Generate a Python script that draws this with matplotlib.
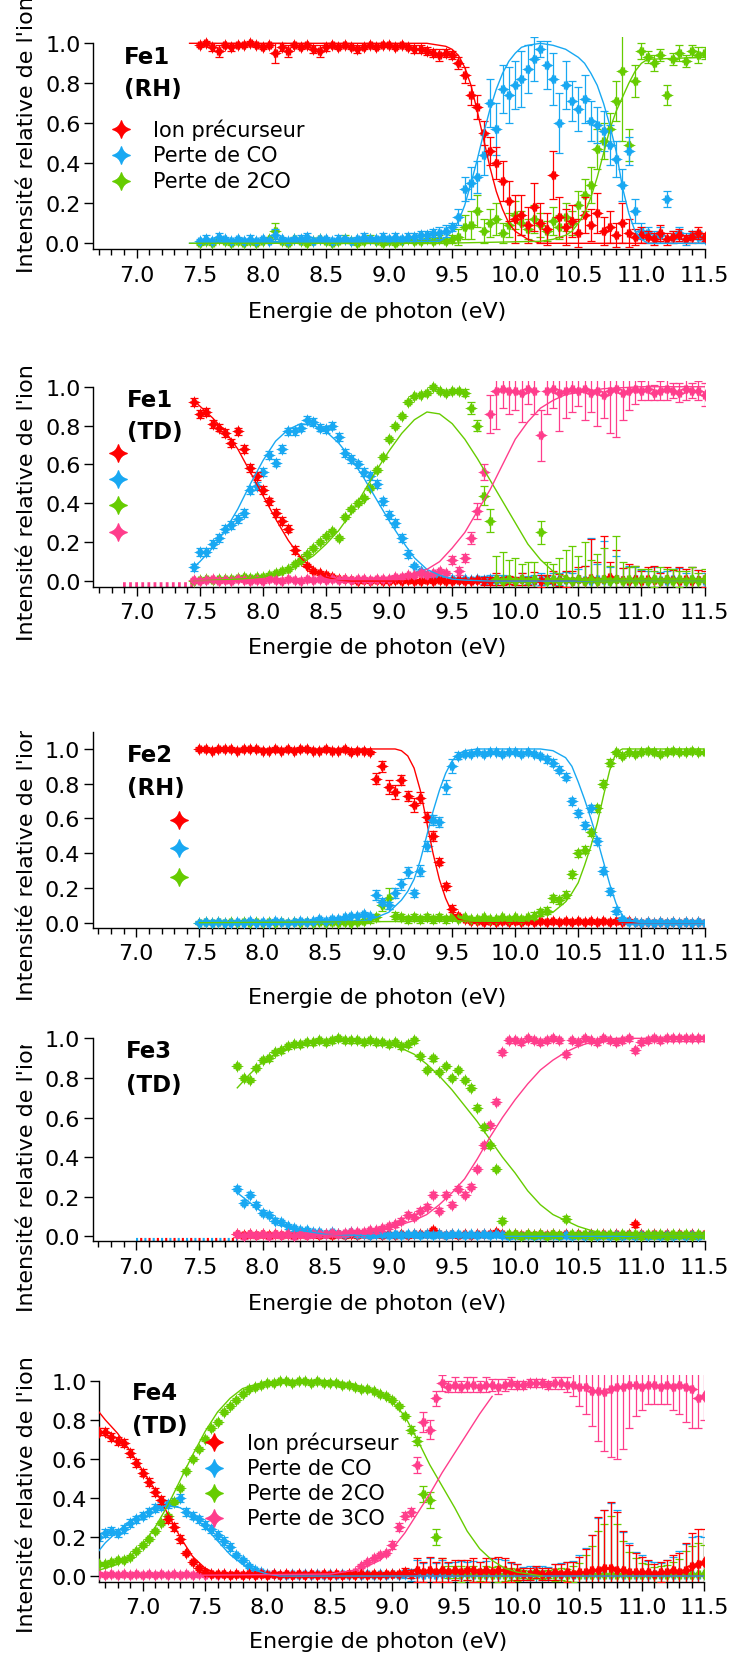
import numpy as np
import matplotlib
matplotlib.use("Agg")
import matplotlib.pyplot as plt
from matplotlib.path import Path
from matplotlib.ticker import MultipleLocator, FormatStrFormatter
from matplotlib.transforms import Bbox, TransformedBbox

plt.rcParams['font.family'] = ['DejaVu Sans']

RED = '#FF0000'
BLUE = '#18A8F2'
GREEN = '#66CC00'
PINK = '#FF3D8C'

# ---------------- Fe1 (RH) ----------------
x1 = np.round(np.arange(7.50, 11.501, 0.05), 2)
p1_red = [0.99, 1.00, 0.98, 0.96, 0.99, 0.98, 0.99, 0.99, 1.00, 0.99,
          0.98, 0.99, 0.95, 0.98, 0.96, 0.99, 0.98, 0.99, 0.97, 0.96,
          0.98, 0.99, 0.98, 0.99, 0.98, 0.97, 0.98, 0.99, 0.98, 0.99,
          0.99, 0.98, 0.99, 0.98, 0.97, 0.97, 0.96, 0.95, 0.94, 0.95,
          0.94, 0.90, 0.84, 0.74, 0.68, 0.55, 0.46, 0.40, 0.31, 0.21,
          0.12, 0.14, 0.09, 0.18, 0.10, 0.07, 0.34, 0.13, 0.08, 0.11,
          0.05, 0.14, 0.09, 0.15, 0.06, 0.08, 0.04, 0.10, 0.05, 0.03,
          0.04, 0.03, 0.02, 0.05, 0.02, 0.03, 0.04, 0.02, 0.03, 0.05, 0.03]
p1_red_err = [0.01, 0.01, 0.02, 0.03, 0.01, 0.02, 0.01, 0.01, 0.01, 0.01,
              0.01, 0.01, 0.05, 0.02, 0.03, 0.01, 0.01, 0.01, 0.02, 0.03,
              0.02, 0.01, 0.01, 0.01, 0.01, 0.02, 0.01, 0.01, 0.01, 0.01,
              0.01, 0.01, 0.01, 0.01, 0.02, 0.02, 0.02, 0.02, 0.03, 0.02,
              0.02, 0.03, 0.04, 0.05, 0.06, 0.06, 0.07, 0.08, 0.10, 0.10,
              0.12, 0.10, 0.09, 0.12, 0.10, 0.08, 0.12, 0.10, 0.09, 0.08,
              0.07, 0.09, 0.08, 0.10, 0.07, 0.08, 0.06, 0.10, 0.07, 0.04,
              0.04, 0.03, 0.03, 0.04, 0.03, 0.03, 0.03, 0.02, 0.03, 0.03, 0.02]
p1_blue = [0.01, 0.02, 0.01, 0.03, 0.02, 0.01, 0.02, 0.01, 0.02, 0.01,
           0.02, 0.01, 0.04, 0.02, 0.01, 0.02, 0.02, 0.03, 0.01, 0.02,
           0.02, 0.01, 0.02, 0.02, 0.01, 0.02, 0.03, 0.02, 0.02, 0.03,
           0.02, 0.03, 0.02, 0.03, 0.03, 0.04, 0.04, 0.05, 0.05, 0.06,
           0.08, 0.13, 0.27, 0.30, 0.33, 0.44, 0.70, 0.57, 0.77, 0.74,
           0.79, 0.82, 0.87, 0.92, 0.97, 0.89, 0.82, 0.60, 0.79, 0.71,
           0.67, 0.72, 0.61, 0.59, 0.56, 0.49, 0.42, 0.29, 0.46, 0.16,
           0.06, 0.05, 0.03, 0.04, 0.22, 0.03, 0.05, 0.02, 0.04, 0.03, 0.02]
p1_blue_err = [0.01, 0.02, 0.01, 0.02, 0.01, 0.01, 0.01, 0.01, 0.02, 0.01,
               0.01, 0.01, 0.03, 0.01, 0.01, 0.01, 0.02, 0.02, 0.01, 0.01,
               0.01, 0.01, 0.02, 0.01, 0.01, 0.01, 0.02, 0.01, 0.01, 0.02,
               0.01, 0.02, 0.01, 0.02, 0.02, 0.02, 0.02, 0.02, 0.03, 0.03,
               0.02, 0.04, 0.06, 0.08, 0.08, 0.10, 0.12, 0.13, 0.12, 0.14,
               0.12, 0.14, 0.12, 0.11, 0.04, 0.12, 0.13, 0.15, 0.12, 0.10,
               0.11, 0.12, 0.10, 0.09, 0.10, 0.10, 0.09, 0.08, 0.07, 0.06,
               0.04, 0.03, 0.03, 0.04, 0.04, 0.03, 0.03, 0.03, 0.02, 0.03, 0.02]
p1_green = [0.00, 0.01, 0.00, 0.02, 0.01, 0.00, 0.01, 0.00, 0.01, 0.00,
            0.01, 0.02, 0.06, 0.01, 0.00, 0.02, 0.01, 0.00, 0.01, 0.02,
            0.01, 0.00, 0.01, 0.02, 0.01, 0.00, 0.01, 0.02, 0.01, 0.00,
            0.01, 0.00, 0.01, 0.02, 0.01, 0.01, 0.02, 0.01, 0.02, 0.01,
            0.02, 0.03, 0.08, 0.09, 0.16, 0.06, 0.10, 0.12, 0.05, 0.09,
            0.14, 0.10, 0.07, 0.12, 0.09, 0.06, 0.11, 0.08, 0.13, 0.10,
            0.19, 0.24, 0.29, 0.47, 0.51, 0.57, 0.71, 0.86, 0.49, 0.81,
            0.96, 0.93, 0.90, 0.94, 0.74, 0.92, 0.95, 0.91, 0.96, 0.94, 0.95]
p1_green_err = [0.01, 0.01, 0.01, 0.01, 0.01, 0.01, 0.01, 0.01, 0.01, 0.01,
                0.01, 0.01, 0.04, 0.01, 0.01, 0.01, 0.01, 0.01, 0.01, 0.01,
                0.01, 0.01, 0.01, 0.02, 0.01, 0.01, 0.01, 0.02, 0.01, 0.01,
                0.01, 0.01, 0.01, 0.01, 0.01, 0.01, 0.02, 0.01, 0.02, 0.01,
                0.02, 0.04, 0.06, 0.07, 0.08, 0.06, 0.07, 0.08, 0.05, 0.06,
                0.07, 0.06, 0.05, 0.07, 0.06, 0.05, 0.07, 0.06, 0.07, 0.06,
                0.07, 0.08, 0.09, 0.10, 0.09, 0.08, 0.10, 0.35, 0.08, 0.08,
                0.04, 0.03, 0.04, 0.03, 0.05, 0.03, 0.04, 0.03, 0.03, 0.04, 0.03]
f1_red_x = [7.42, 9.3, 9.4, 9.45, 9.5, 9.55, 9.6, 9.65, 9.7, 9.75, 9.8, 9.85, 9.9, 9.95, 10.0, 10.1, 10.2, 11.5]
f1_red_y = [1.0, 1.0, 0.99, 0.985, 0.97, 0.94, 0.88, 0.79, 0.66, 0.52, 0.38, 0.26, 0.17, 0.10, 0.06, 0.02, 0.0, 0.0]
f1_blue_x = [7.42, 9.4, 9.45, 9.5, 9.55, 9.6, 9.65, 9.7, 9.75, 9.8, 9.85, 9.9, 9.95, 10.0, 10.05, 10.1, 10.2,
             10.3, 10.4, 10.5, 10.55, 10.6, 10.65, 10.7, 10.75, 10.8, 10.85, 10.9, 10.95, 11.0, 11.05, 11.5]
f1_blue_y = [0.0, 0.01, 0.03, 0.06, 0.11, 0.19, 0.30, 0.42, 0.55, 0.67, 0.77, 0.85, 0.91, 0.95, 0.98, 0.99, 1.0,
             0.99, 0.97, 0.93, 0.90, 0.85, 0.79, 0.70, 0.59, 0.46, 0.28, 0.15, 0.06, 0.02, 0.0, 0.0]
f1_green_x = [7.42, 9.4, 10.2, 10.3, 10.4, 10.45, 10.5, 10.55, 10.6, 10.65, 10.7, 10.75, 10.8, 10.85, 10.9,
              10.95, 11.0, 11.05, 11.5]
f1_green_y = [0.0, 0.0, 0.01, 0.02, 0.04, 0.06, 0.10, 0.15, 0.23, 0.33, 0.45, 0.57, 0.66, 0.73, 0.80,
              0.86, 0.90, 0.92, 0.93]

# ---------------- Fe1 (TD) ----------------
x2 = np.round(np.arange(7.45, 11.501, 0.05), 2)
p2_red = [0.92, 0.86, 0.87, 0.81, 0.79, 0.76, 0.71, 0.77, 0.68, 0.58, 0.54,
          0.47, 0.41, 0.35, 0.31, 0.27, 0.16, 0.11, 0.08, 0.05, 0.04,
          0.03, 0.02, 0.01, 0.01, 0.005, 0.0, 0.005, 0.0, 0.005, 0.0,
          0.0, 0.005, 0.0, 0.005, 0.0, 0.0, 0.005, 0.0, 0.005, 0.0,
          0.0, 0.005, 0.0, 0.0, 0.005, 0.0, 0.0, 0.01, 0.0, 0.005,
          0.0, 0.01, 0.0, 0.005, 0.0, 0.01, 0.0, 0.005, 0.01, 0.0,
          0.01, 0.0, 0.015, 0.0, 0.01, 0.02, 0.01, 0.005, 0.0, 0.01,
          0.0, 0.01, 0.005, 0.0, 0.01, 0.005, 0.0, 0.01, 0.0, 0.005, 0.01]
p2_red_err = [0.02, 0.02, 0.02, 0.02, 0.02, 0.02, 0.02, 0.02, 0.02, 0.02, 0.02,
              0.02, 0.02, 0.02, 0.02, 0.02, 0.02, 0.02, 0.01, 0.01, 0.01,
              0.01, 0.01, 0.01, 0.01, 0.01, 0.01, 0.01, 0.01, 0.01, 0.01,
              0.01, 0.01, 0.01, 0.01, 0.01, 0.01, 0.01, 0.01, 0.01, 0.01,
              0.01, 0.01, 0.01, 0.01, 0.01, 0.02, 0.02, 0.03, 0.02, 0.02,
              0.02, 0.03, 0.02, 0.04, 0.03, 0.02, 0.05, 0.03, 0.04, 0.05,
              0.06, 0.08, 0.20, 0.10, 0.22, 0.08, 0.15, 0.06, 0.09, 0.07,
              0.05, 0.06, 0.07, 0.04, 0.06, 0.05, 0.07, 0.05, 0.07, 0.05, 0.04]
p2_blue = [0.07, 0.15, 0.15, 0.19, 0.22, 0.27, 0.29, 0.32, 0.35, 0.47, 0.49,
           0.56, 0.65, 0.61, 0.68, 0.77, 0.77, 0.79, 0.83, 0.82, 0.79,
           0.78, 0.80, 0.74, 0.66, 0.63, 0.60, 0.56, 0.54, 0.50, 0.41,
           0.34, 0.30, 0.22, 0.14, 0.08, 0.05, 0.03, 0.02, 0.02, 0.01,
           0.01, 0.005, 0.01, 0.005, 0.01, 0.005, 0.01, 0.0, 0.01, 0.005,
           0.0, 0.01, 0.005, 0.0, 0.01, 0.005, 0.0, 0.01, 0.005, 0.0,
           0.01, 0.005, 0.0, 0.01, 0.005, 0.0, 0.01, 0.005, 0.0, 0.01,
           0.005, 0.0, 0.01, 0.005, 0.0, 0.01, 0.005, 0.0, 0.01, 0.005, 0.0]
p2_blue_err = [0.02, 0.02, 0.02, 0.02, 0.02, 0.02, 0.02, 0.02, 0.02, 0.02, 0.02,
               0.02, 0.02, 0.02, 0.02, 0.02, 0.02, 0.02, 0.02, 0.02, 0.02,
               0.02, 0.02, 0.02, 0.02, 0.02, 0.02, 0.02, 0.02, 0.02, 0.02,
               0.02, 0.02, 0.02, 0.02, 0.01, 0.01, 0.01, 0.01, 0.01, 0.01,
               0.01, 0.01, 0.01, 0.01, 0.01, 0.02, 0.02, 0.03, 0.02, 0.02,
               0.02, 0.03, 0.02, 0.03, 0.03, 0.02, 0.04, 0.03, 0.04, 0.04,
               0.05, 0.07, 0.22, 0.08, 0.20, 0.07, 0.12, 0.06, 0.08, 0.06,
               0.05, 0.05, 0.06, 0.04, 0.05, 0.05, 0.06, 0.04, 0.06, 0.05, 0.04]
p2_green = [0.0, 0.005, 0.01, 0.005, 0.01, 0.01, 0.01, 0.015, 0.02, 0.015, 0.02,
            0.02, 0.03, 0.04, 0.05, 0.06, 0.09, 0.11, 0.14, 0.17, 0.20,
            0.23, 0.26, 0.22, 0.33, 0.37, 0.40, 0.43, 0.48, 0.57, 0.64,
            0.73, 0.80, 0.85, 0.92, 0.95, 0.96, 0.97, 1.0, 0.98, 0.97,
            0.98, 0.98, 0.97, 0.89, 0.80, 0.44, 0.31, 0.01, 0.0, 0.01,
            0.0, 0.01, 0.0, 0.01, 0.25, 0.0, 0.01, 0.0, 0.01, 0.0,
            0.01, 0.0, 0.01, 0.0, 0.01, 0.0, 0.01, 0.0, 0.01, 0.0,
            0.01, 0.0, 0.01, 0.0, 0.01, 0.0, 0.01, 0.0, 0.01, 0.0, 0.01]
p2_green_err = [0.01, 0.01, 0.01, 0.01, 0.01, 0.01, 0.01, 0.01, 0.01, 0.01, 0.01,
                0.01, 0.01, 0.01, 0.01, 0.01, 0.01, 0.01, 0.01, 0.01, 0.01,
                0.01, 0.01, 0.01, 0.01, 0.01, 0.01, 0.01, 0.01, 0.01, 0.01,
                0.01, 0.01, 0.01, 0.01, 0.01, 0.01, 0.01, 0.01, 0.01, 0.01,
                0.01, 0.01, 0.02, 0.03, 0.03, 0.05, 0.06, 0.12, 0.15, 0.10,
                0.12, 0.08, 0.10, 0.09, 0.06, 0.10, 0.08, 0.12, 0.15, 0.18,
                0.12, 0.20, 0.10, 0.14, 0.16, 0.08, 0.22, 0.10, 0.06, 0.08,
                0.05, 0.06, 0.04, 0.07, 0.05, 0.06, 0.04, 0.05, 0.06, 0.04, 0.05]
p2_pink = [0.005, 0.0, 0.005, 0.01, 0.0, 0.005, 0.0, 0.01, 0.005, 0.0, 0.005,
           0.0, 0.01, 0.005, 0.0, 0.01, 0.005, 0.0, 0.01, 0.005, 0.01,
           0.005, 0.01, 0.005, 0.01, 0.005, 0.01, 0.01, 0.005, 0.01, 0.01,
           0.01, 0.02, 0.02, 0.03, 0.03, 0.04, 0.03, 0.04, 0.05, 0.04,
           0.11, 0.05, 0.12, 0.22, 0.36, 0.56, 0.86, 0.98, 0.99, 0.98,
           0.98, 0.97, 0.99, 0.98, 0.75, 0.98, 0.99, 0.97, 0.98, 0.99,
           0.98, 0.99, 0.97, 0.98, 0.96, 0.98, 0.99, 0.97, 0.98, 0.99,
           0.98, 0.99, 0.97, 0.98, 0.99, 0.98, 0.97, 0.99, 0.98, 0.98, 0.96]
p2_pink_err = [0.01, 0.01, 0.01, 0.01, 0.01, 0.01, 0.01, 0.01, 0.01, 0.01, 0.01,
               0.01, 0.01, 0.01, 0.01, 0.01, 0.01, 0.01, 0.01, 0.01, 0.01,
               0.01, 0.01, 0.01, 0.01, 0.01, 0.01, 0.01, 0.01, 0.01, 0.01,
               0.01, 0.01, 0.01, 0.01, 0.01, 0.01, 0.01, 0.01, 0.01, 0.01,
               0.02, 0.02, 0.02, 0.03, 0.04, 0.04, 0.10, 0.20, 0.10, 0.12,
               0.10, 0.15, 0.08, 0.12, 0.13, 0.12, 0.10, 0.20, 0.14, 0.12,
               0.08, 0.16, 0.10, 0.18, 0.12, 0.22, 0.25, 0.14, 0.10, 0.08,
               0.05, 0.06, 0.04, 0.05, 0.06, 0.04, 0.05, 0.06, 0.04, 0.05, 0.06]
f2_red_x = [7.45, 7.5, 7.6, 7.7, 7.8, 7.9, 8.0, 8.1, 8.2, 8.3, 8.4, 8.5, 8.6, 8.7, 11.5]
f2_red_y = [0.93, 0.90, 0.84, 0.77, 0.68, 0.56, 0.44, 0.32, 0.21, 0.12, 0.06, 0.02, 0.005, 0.0, 0.0]
f2_blue_x = [7.45, 7.5, 7.6, 7.7, 7.8, 7.9, 8.0, 8.1, 8.2, 8.3, 8.4, 8.5, 8.6, 8.7, 8.8, 8.9, 9.0,
             9.1, 9.2, 9.3, 9.4, 9.5, 9.6, 9.8, 11.5]
f2_blue_y = [0.07, 0.10, 0.17, 0.26, 0.37, 0.50, 0.62, 0.72, 0.78, 0.81, 0.80, 0.77, 0.71, 0.63, 0.53, 0.42, 0.31,
             0.21, 0.12, 0.06, 0.03, 0.01, 0.005, 0.0, 0.0]
f2_green_x = [7.45, 7.8, 8.0, 8.1, 8.2, 8.3, 8.4, 8.5, 8.6, 8.7, 8.8, 8.9, 9.0, 9.1, 9.2, 9.3, 9.4, 9.5,
              9.6, 9.7, 9.8, 9.9, 10.0, 10.1, 10.2, 10.3, 10.4, 10.5, 10.7, 11.5]
f2_green_y = [0.0, 0.01, 0.02, 0.04, 0.06, 0.09, 0.13, 0.19, 0.26, 0.35, 0.46, 0.57, 0.67, 0.76, 0.83, 0.87, 0.86, 0.81,
              0.73, 0.63, 0.52, 0.41, 0.30, 0.19, 0.11, 0.05, 0.02, 0.005, 0.0, 0.0]
f2_pink_x = [7.45, 8.5, 8.8, 9.0, 9.1, 9.2, 9.3, 9.4, 9.5, 9.6, 9.7, 9.8, 9.9, 10.0, 10.1, 10.2, 10.3,
             10.4, 10.5, 10.7, 11.0, 11.5]
f2_pink_y = [0.0, 0.005, 0.01, 0.02, 0.03, 0.04, 0.06, 0.10, 0.17, 0.25, 0.36, 0.47, 0.60, 0.73, 0.82, 0.89, 0.93,
             0.96, 0.97, 0.99, 1.0, 1.0]
p2_pad_x = [6.89, 7.45]
p2_pad_y = [-0.022, -0.022]

# ---------------- Fe2 (RH) ----------------
x3 = np.round(np.arange(7.50, 11.501, 0.05), 2)
p3_red = [1.0, 1.0, 0.99, 1.0, 1.0, 1.0, 0.99, 1.0, 1.0, 1.0,
          0.99, 0.99, 1.0, 0.99, 1.0, 0.99, 1.0, 1.0, 0.99, 0.99,
          1.0, 0.99, 0.99, 1.0, 0.98, 0.99, 0.99, 0.98, 0.83, 0.90,
          0.78, 0.75, 0.82, 0.73, 0.68, 0.72, 0.61, 0.50, 0.35, 0.21,
          0.08, 0.04, 0.02, 0.01, 0.01, 0.005, 0.01, 0.005, 0.01, 0.005,
          0.01, 0.005, 0.01, 0.005, 0.01, 0.005, 0.01, 0.005, 0.01, 0.005,
          0.01, 0.005, 0.01, 0.005, 0.01, 0.005, 0.01, 0.005, 0.01, 0.005,
          0.0, 0.005, 0.0, 0.005, 0.0, 0.005, 0.0, 0.005, 0.0, 0.005, 0.0]
p3_red_err = [0.01, 0.01, 0.01, 0.01, 0.01, 0.01, 0.01, 0.01, 0.01, 0.01,
              0.01, 0.01, 0.01, 0.01, 0.01, 0.01, 0.01, 0.01, 0.01, 0.01,
              0.01, 0.01, 0.01, 0.01, 0.01, 0.01, 0.01, 0.01, 0.03, 0.03,
              0.04, 0.04, 0.03, 0.03, 0.04, 0.03, 0.03, 0.03, 0.02, 0.02,
              0.02, 0.01, 0.01, 0.01, 0.01, 0.01, 0.01, 0.01, 0.01, 0.01,
              0.01, 0.01, 0.01, 0.01, 0.01, 0.01, 0.01, 0.01, 0.01, 0.01,
              0.01, 0.01, 0.01, 0.01, 0.01, 0.01, 0.01, 0.01, 0.01, 0.01,
              0.01, 0.01, 0.01, 0.01, 0.01, 0.01, 0.01, 0.01, 0.01, 0.01, 0.01]
p3_blue = [0.0, 0.005, 0.0, 0.005, 0.0, 0.0, 0.005, 0.0, 0.01, 0.0,
           0.005, 0.0, 0.01, 0.005, 0.0, 0.005, 0.01, 0.005, 0.01, 0.02,
           0.01, 0.02, 0.02, 0.03, 0.04, 0.04, 0.05, 0.04, 0.16, 0.12,
           0.10, 0.17, 0.22, 0.29, 0.17, 0.30, 0.44, 0.59, 0.58, 0.78,
           0.90, 0.96, 0.97, 0.97, 0.98, 0.97, 0.98, 0.98, 0.97, 0.98,
           0.98, 0.97, 0.98, 0.97, 0.96, 0.94, 0.92, 0.88, 0.84, 0.70,
           0.63, 0.56, 0.66, 0.47, 0.30, 0.18, 0.07, 0.02, 0.005, 0.005,
           0.0, 0.005, 0.0, 0.005, 0.0, 0.005, 0.0, 0.005, 0.0, 0.005, 0.0]
p3_blue_err = [0.01, 0.01, 0.01, 0.01, 0.01, 0.01, 0.01, 0.01, 0.01, 0.01,
               0.01, 0.01, 0.01, 0.01, 0.01, 0.01, 0.01, 0.01, 0.01, 0.01,
               0.01, 0.01, 0.01, 0.01, 0.01, 0.01, 0.01, 0.01, 0.03, 0.02,
               0.02, 0.03, 0.03, 0.03, 0.02, 0.03, 0.03, 0.03, 0.03, 0.04,
               0.04, 0.02, 0.01, 0.01, 0.01, 0.01, 0.01, 0.01, 0.01, 0.01,
               0.01, 0.01, 0.01, 0.01, 0.01, 0.02, 0.02, 0.02, 0.02, 0.02,
               0.02, 0.02, 0.02, 0.02, 0.02, 0.02, 0.02, 0.01, 0.01, 0.01,
               0.01, 0.01, 0.01, 0.01, 0.01, 0.01, 0.01, 0.01, 0.01, 0.01, 0.01]
p3_green = [0.0, 0.005, 0.0, 0.005, 0.0, 0.005, 0.0, 0.005, 0.0, 0.005,
            0.0, 0.005, 0.0, 0.005, 0.0, 0.005, 0.0, 0.005, 0.0, 0.005,
            0.0, 0.005, 0.0, 0.005, 0.0, 0.005, 0.01, 0.02, 0.03, 0.10,
            0.14, 0.04, 0.03, 0.02, 0.03, 0.02, 0.03, 0.02, 0.03, 0.02,
            0.03, 0.02, 0.03, 0.02, 0.02, 0.03, 0.02, 0.02, 0.03, 0.02,
            0.03, 0.02, 0.03, 0.04, 0.06, 0.07, 0.14, 0.13, 0.16, 0.28,
            0.40, 0.42, 0.52, 0.66, 0.80, 0.92, 0.98, 0.96, 0.98, 0.97,
            0.98, 0.99, 0.98, 0.97, 0.98, 0.99, 0.98, 0.98, 0.99, 0.98, 0.98]
p3_green_err = [0.01, 0.01, 0.01, 0.01, 0.01, 0.01, 0.01, 0.01, 0.01, 0.01,
                0.01, 0.01, 0.01, 0.01, 0.01, 0.01, 0.01, 0.01, 0.01, 0.01,
                0.01, 0.01, 0.01, 0.01, 0.01, 0.01, 0.01, 0.02, 0.02, 0.03,
                0.06, 0.02, 0.02, 0.02, 0.02, 0.02, 0.02, 0.02, 0.02, 0.02,
                0.01, 0.01, 0.01, 0.01, 0.01, 0.01, 0.01, 0.01, 0.01, 0.01,
                0.01, 0.01, 0.01, 0.02, 0.02, 0.02, 0.02, 0.02, 0.02, 0.02,
                0.02, 0.02, 0.02, 0.02, 0.02, 0.02, 0.01, 0.01, 0.01, 0.01,
                0.01, 0.01, 0.01, 0.01, 0.01, 0.01, 0.01, 0.01, 0.01, 0.01, 0.01]
f3_red_x = [7.5, 9.0, 9.05, 9.1, 9.15, 9.2, 9.25, 9.3, 9.35, 9.4, 9.45, 9.5, 9.55, 9.6, 9.7, 11.5]
f3_red_y = [1.0, 1.0, 1.0, 0.99, 0.96, 0.89, 0.76, 0.58, 0.40, 0.25, 0.14, 0.06, 0.02, 0.01, 0.0, 0.0]
f3_blue_x = [7.5, 8.8, 8.9, 9.0, 9.1, 9.15, 9.2, 9.25, 9.3, 9.35, 9.4, 9.45, 9.5, 9.55, 9.6, 9.7, 10.2,
             10.3, 10.4, 10.45, 10.5, 10.55, 10.6, 10.65, 10.7, 10.75, 10.8, 10.85, 10.9, 11.0, 11.5]
f3_blue_y = [0.0, 0.01, 0.03, 0.06, 0.13, 0.18, 0.25, 0.36, 0.50, 0.64, 0.76, 0.86, 0.93, 0.97, 0.99, 1.0, 1.0,
             0.99, 0.95, 0.90, 0.81, 0.71, 0.60, 0.48, 0.35, 0.22, 0.11, 0.04, 0.01, 0.0, 0.0]
f3_green_x = [7.5, 9.8, 10.0, 10.2, 10.3, 10.4, 10.45, 10.5, 10.55, 10.6, 10.65, 10.7, 10.75, 10.8, 10.85, 11.5]
f3_green_y = [0.0, 0.01, 0.02, 0.04, 0.06, 0.12, 0.17, 0.23, 0.33, 0.44, 0.57, 0.73, 0.88, 0.98, 1.0, 1.0]

# ---------------- Fe3 (TD) ----------------
x4 = np.round(np.arange(7.80, 11.501, 0.05), 2)
p4_green = [0.86, 0.80, 0.79, 0.85, 0.89, 0.90, 0.93, 0.94, 0.96, 0.97,
            0.97, 0.98, 0.98, 0.99, 0.98, 0.99, 1.0, 0.99, 0.99, 0.99,
            0.98, 0.99, 0.98, 0.98, 0.97, 0.98, 0.96, 0.97, 0.99, 0.91,
            0.84, 0.90, 0.83, 0.86, 0.80, 0.84, 0.79, 0.75, 0.65, 0.55,
            0.46, 0.34, 0.08, 0.01, 0.01, 0.0, 0.01, 0.005, 0.01, 0.0,
            0.01, 0.005, 0.09, 0.01, 0.005, 0.01, 0.0, 0.01, 0.005, 0.01,
            0.0, 0.01, 0.005, 0.01, 0.0, 0.01, 0.005, 0.01, 0.0, 0.01,
            0.005, 0.01, 0.0, 0.01, 0.005]
p4_blue = [0.24, 0.17, 0.21, 0.16, 0.12, 0.11, 0.08, 0.07, 0.05, 0.04,
           0.03, 0.03, 0.02, 0.02, 0.01, 0.02, 0.01, 0.01, 0.02, 0.01,
           0.01, 0.005, 0.01, 0.01, 0.005, 0.01, 0.005, 0.01, 0.01, 0.005,
           0.01, 0.005, 0.01, 0.005, 0.01, 0.01, 0.005, 0.01, 0.005, 0.01,
           0.005, 0.01, 0.005, 0.0, 0.005, 0.0, 0.005, 0.0, 0.005, 0.0,
           0.005, 0.0, 0.005, 0.0, 0.005, 0.0, 0.005, 0.0, 0.005, 0.0,
           0.005, 0.0, 0.005, 0.0, 0.005, 0.0, 0.005, 0.0, 0.005, 0.0,
           0.005, 0.0, 0.005, 0.0, 0.005]
p4_red = [0.01, 0.005, 0.01, 0.005, 0.01, 0.005, 0.01, 0.005, 0.01, 0.005,
          0.01, 0.005, 0.01, 0.005, 0.01, 0.005, 0.01, 0.005, 0.01, 0.005,
          0.01, 0.005, 0.01, 0.005, 0.01, 0.005, 0.01, 0.005, 0.01, 0.01,
          0.01, 0.03, 0.01, 0.005, 0.01, 0.005, 0.01, 0.005, 0.01, 0.01,
          0.01, 0.02, 0.01, 0.005, 0.01, 0.005, 0.01, 0.005, 0.01, 0.005,
          0.01, 0.005, 0.01, 0.005, 0.01, 0.005, 0.01, 0.005, 0.01, 0.005,
          0.01, 0.005, 0.01, 0.06, 0.01, 0.005, 0.01, 0.005, 0.01, 0.005,
          0.01, 0.005, 0.01, 0.005, 0.01]
p4_pink = [0.01, 0.0, 0.01, 0.005, 0.01, 0.0, 0.01, 0.005, 0.01, 0.0,
           0.01, 0.005, 0.01, 0.01, 0.01, 0.015, 0.01, 0.015, 0.02, 0.02,
           0.02, 0.03, 0.03, 0.04, 0.05, 0.06, 0.08, 0.11, 0.10, 0.13,
           0.15, 0.21, 0.13, 0.21, 0.16, 0.24, 0.21, 0.25, 0.34, 0.46,
           0.56, 0.68, 0.93, 0.99, 0.99, 0.98, 1.0, 0.99, 0.98, 0.99,
           1.0, 0.99, 0.92, 0.99, 0.98, 1.0, 0.99, 0.98, 1.0, 0.99,
           0.98, 0.99, 1.0, 0.94, 0.98, 0.99, 1.0, 0.99, 1.0, 1.0,
           1.0, 1.0, 1.0, 1.0, 1.0]
p4_err = 0.012
f4_green_x = [7.8, 7.9, 8.0, 8.1, 8.2, 8.3, 8.4, 8.5, 8.6, 8.8, 9.0, 9.1, 9.2, 9.3, 9.4, 9.5, 9.6, 9.7,
              9.8, 9.9, 10.0, 10.1, 10.2, 10.3, 10.4, 10.5, 10.6, 10.7, 10.8, 11.0, 11.5]
f4_green_y = [0.75, 0.82, 0.88, 0.92, 0.95, 0.97, 0.98, 0.99, 0.99, 0.99, 0.97, 0.95, 0.92, 0.87, 0.81, 0.74, 0.66, 0.58,
              0.49, 0.40, 0.32, 0.23, 0.16, 0.11, 0.08, 0.05, 0.03, 0.015, 0.01, 0.0, 0.0]
f4_blue_x = [7.8, 7.9, 8.0, 8.1, 8.2, 8.3, 8.5, 9.0, 11.5]
f4_blue_y = [0.22, 0.17, 0.12, 0.08, 0.05, 0.03, 0.01, 0.0, 0.0]
f4_pink_x = [7.8, 8.5, 8.8, 9.0, 9.1, 9.2, 9.3, 9.4, 9.5, 9.6, 9.7, 9.8, 9.9, 10.0, 10.1, 10.2, 10.3,
             10.4, 10.5, 10.6, 10.7, 10.8, 11.5]
f4_pink_y = [0.0, 0.005, 0.02, 0.04, 0.06, 0.08, 0.11, 0.16, 0.22, 0.29, 0.39, 0.50, 0.60, 0.69, 0.77, 0.84, 0.89,
             0.93, 0.96, 0.98, 0.99, 1.0, 1.0]
p4_pad_x = [7.0, 7.8]
p4_pad_y = [-0.017, -0.017]

# ---------------- Fe4 (TD) ----------------
x5 = np.round(np.arange(6.65, 11.501, 0.05), 2)
p5_red = [0.74, 0.74, 0.71, 0.69, 0.68, 0.63, 0.58, 0.53, 0.48, 0.43,
          0.39, 0.29, 0.25, 0.19, 0.12, 0.07, 0.04, 0.02, 0.01, 0.01,
          0.01, 0.005, 0.01, 0.005, 0.01, 0.005, 0.01, 0.005, 0.01, 0.005,
          0.01, 0.005, 0.01, 0.005, 0.01, 0.005, 0.01, 0.005, 0.01, 0.005,
          0.01, 0.005, 0.01, 0.005, 0.01, 0.005, 0.01, 0.01, 0.01, 0.02,
          0.01, 0.03, 0.02, 0.03, 0.02, 0.03, 0.02, 0.03, 0.02, 0.03,
          0.03, 0.02, 0.03, 0.02, 0.03, 0.03, 0.02, 0.02, 0.01, 0.01,
          0.02, 0.01, 0.01, 0.02, 0.01, 0.02, 0.01, 0.02, 0.02, 0.03,
          0.03, 0.04, 0.04, 0.03, 0.03, 0.02, 0.02, 0.02, 0.02, 0.01,
          0.02, 0.02, 0.03, 0.02, 0.03, 0.05, 0.06, 0.07]
p5_red_err = [0.02, 0.02, 0.02, 0.02, 0.02, 0.02, 0.02, 0.02, 0.02, 0.02,
              0.02, 0.02, 0.02, 0.02, 0.01, 0.01, 0.01, 0.01, 0.01, 0.01,
              0.01, 0.01, 0.01, 0.01, 0.01, 0.01, 0.01, 0.01, 0.01, 0.01,
              0.01, 0.01, 0.01, 0.01, 0.01, 0.01, 0.01, 0.01, 0.01, 0.01,
              0.01, 0.01, 0.01, 0.01, 0.01, 0.01, 0.01, 0.01, 0.01, 0.02,
              0.02, 0.06, 0.05, 0.07, 0.05, 0.06, 0.05, 0.05, 0.06, 0.05,
              0.06, 0.05, 0.06, 0.07, 0.07, 0.06, 0.05, 0.04, 0.03, 0.03,
              0.03, 0.03, 0.03, 0.04, 0.05, 0.05, 0.06, 0.08, 0.12, 0.18,
              0.27, 0.30, 0.34, 0.30, 0.20, 0.14, 0.10, 0.08, 0.06, 0.05,
              0.05, 0.06, 0.08, 0.10, 0.14, 0.17, 0.18, 0.17]
p5_blue = [0.20, 0.22, 0.23, 0.22, 0.24, 0.27, 0.29, 0.31, 0.33, 0.35,
           0.36, 0.37, 0.38, 0.40, 0.33, 0.31, 0.29, 0.26, 0.24, 0.21,
           0.18, 0.15, 0.11, 0.08, 0.05, 0.03, 0.02, 0.01, 0.01, 0.005,
           0.005, 0.01, 0.005, 0.01, 0.005, 0.01, 0.005, 0.01, 0.005, 0.01,
           0.005, 0.01, 0.005, 0.01, 0.005, 0.01, 0.005, 0.01, 0.005, 0.01,
           0.005, 0.01, 0.005, 0.01, 0.005, 0.01, 0.005, 0.01, 0.005, 0.01,
           0.005, 0.01, 0.005, 0.01, 0.005, 0.01, 0.005, 0.01, 0.005, 0.01,
           0.005, 0.01, 0.005, 0.01, 0.005, 0.01, 0.005, 0.01, 0.005, 0.01,
           0.005, 0.01, 0.005, 0.01, 0.005, 0.01, 0.005, 0.01, 0.005, 0.01,
           0.005, 0.01, 0.005, 0.01, 0.005, 0.01, 0.005, 0.01]
p5_blue_err = [0.02, 0.02, 0.02, 0.02, 0.02, 0.02, 0.02, 0.02, 0.02, 0.02,
               0.02, 0.02, 0.02, 0.02, 0.02, 0.02, 0.02, 0.02, 0.02, 0.02,
               0.02, 0.02, 0.01, 0.01, 0.01, 0.01, 0.01, 0.01, 0.01, 0.01,
               0.01, 0.01, 0.01, 0.01, 0.01, 0.01, 0.01, 0.01, 0.01, 0.01,
               0.01, 0.01, 0.01, 0.01, 0.01, 0.01, 0.01, 0.01, 0.01, 0.02,
               0.03, 0.07, 0.06, 0.08, 0.06, 0.07, 0.06, 0.06, 0.07, 0.06,
               0.07, 0.06, 0.07, 0.08, 0.08, 0.07, 0.06, 0.05, 0.04, 0.04,
               0.04, 0.04, 0.04, 0.05, 0.06, 0.06, 0.07, 0.10, 0.14, 0.20,
               0.29, 0.33, 0.37, 0.33, 0.22, 0.16, 0.12, 0.10, 0.07, 0.06,
               0.06, 0.07, 0.09, 0.12, 0.16, 0.19, 0.20, 0.19]
p5_green = [0.06, 0.06, 0.07, 0.08, 0.08, 0.10, 0.13, 0.16, 0.19, 0.23,
            0.27, 0.31, 0.38, 0.45, 0.54, 0.60, 0.65, 0.70, 0.76, 0.79,
            0.84, 0.87, 0.90, 0.93, 0.96, 0.97, 0.98, 0.99, 0.99, 1.0,
            1.0, 0.99, 1.0, 1.0, 0.99, 1.0, 0.99, 0.99, 0.99, 0.98,
            0.98, 0.97, 0.96, 0.96, 0.95, 0.93, 0.92, 0.90, 0.87, 0.82,
            0.75, 0.69, 0.42, 0.39, 0.20, 0.03, 0.02, 0.02, 0.01, 0.01,
            0.01, 0.005, 0.01, 0.005, 0.01, 0.005, 0.01, 0.005, 0.01, 0.005,
            0.01, 0.005, 0.01, 0.005, 0.01, 0.005, 0.01, 0.005, 0.01, 0.005,
            0.01, 0.005, 0.01, 0.005, 0.01, 0.005, 0.01, 0.005, 0.01, 0.005,
            0.01, 0.005, 0.01, 0.005, 0.01, 0.005, 0.01, 0.01]
p5_green_err = [0.01, 0.01, 0.01, 0.01, 0.01, 0.01, 0.01, 0.01, 0.01, 0.01,
                0.01, 0.01, 0.01, 0.01, 0.01, 0.01, 0.01, 0.01, 0.01, 0.01,
                0.01, 0.01, 0.01, 0.01, 0.01, 0.01, 0.01, 0.01, 0.01, 0.01,
                0.01, 0.01, 0.01, 0.01, 0.01, 0.01, 0.01, 0.01, 0.01, 0.01,
                0.01, 0.01, 0.01, 0.01, 0.01, 0.01, 0.01, 0.01, 0.01, 0.01,
                0.02, 0.02, 0.04, 0.04, 0.04, 0.06, 0.03, 0.03, 0.04, 0.03,
                0.04, 0.03, 0.04, 0.04, 0.04, 0.03, 0.03, 0.03, 0.02, 0.02,
                0.02, 0.02, 0.02, 0.03, 0.03, 0.03, 0.04, 0.06, 0.10, 0.15,
                0.22, 0.26, 0.30, 0.26, 0.17, 0.12, 0.08, 0.06, 0.05, 0.04,
                0.04, 0.05, 0.06, 0.08, 0.12, 0.15, 0.16, 0.15]
p5_pink = [0.01, 0.005, 0.01, 0.005, 0.01, 0.005, 0.01, 0.005, 0.01, 0.005,
           0.01, 0.005, 0.01, 0.005, 0.01, 0.005, 0.01, 0.005, 0.01, 0.005,
           0.01, 0.005, 0.01, 0.005, 0.01, 0.005, 0.01, 0.005, 0.01, 0.005,
           0.01, 0.005, 0.01, 0.005, 0.01, 0.005, 0.01, 0.005, 0.01, 0.005,
           0.01, 0.02, 0.05, 0.07, 0.09, 0.11, 0.12, 0.16, 0.25, 0.31,
           0.33, 0.57, 0.79, 0.75, 0.91, 0.99, 0.97, 0.98, 0.97, 0.98,
           0.98, 0.97, 0.98, 0.98, 0.97, 0.98, 0.99, 0.98, 0.98, 0.99,
           0.99, 0.99, 0.98, 0.99, 0.99, 0.98, 0.98, 0.97, 0.97, 0.95,
           0.95, 0.94, 0.96, 0.97, 0.97, 0.98, 0.98, 0.97, 0.98, 0.98,
           0.97, 0.98, 0.97, 0.98, 0.97, 0.96, 0.91, 0.92]
p5_pink_err = [0.01, 0.01, 0.01, 0.01, 0.01, 0.01, 0.01, 0.01, 0.01, 0.01,
               0.01, 0.01, 0.01, 0.01, 0.01, 0.01, 0.01, 0.01, 0.01, 0.01,
               0.01, 0.01, 0.01, 0.01, 0.01, 0.01, 0.01, 0.01, 0.01, 0.01,
               0.01, 0.01, 0.01, 0.01, 0.01, 0.01, 0.01, 0.01, 0.01, 0.01,
               0.01, 0.01, 0.01, 0.01, 0.01, 0.01, 0.01, 0.02, 0.02, 0.02,
               0.02, 0.04, 0.05, 0.05, 0.04, 0.04, 0.03, 0.04, 0.03, 0.04,
               0.04, 0.03, 0.04, 0.03, 0.04, 0.03, 0.03, 0.02, 0.02, 0.02,
               0.02, 0.02, 0.02, 0.03, 0.03, 0.04, 0.06, 0.10, 0.14, 0.18,
               0.26, 0.30, 0.35, 0.37, 0.32, 0.22, 0.16, 0.12, 0.10, 0.10,
               0.09, 0.10, 0.12, 0.15, 0.18, 0.20, 0.15, 0.12]
f5_red_x = [6.65, 6.7, 6.8, 6.9, 7.0, 7.1, 7.2, 7.3, 7.4, 7.5, 7.6, 7.7, 11.5]
f5_red_y = [0.84, 0.80, 0.73, 0.64, 0.54, 0.44, 0.32, 0.20, 0.10, 0.04, 0.01, 0.0, 0.0]
f5_blue_x = [6.65, 6.7, 6.8, 6.9, 7.0, 7.1, 7.2, 7.3, 7.4, 7.5, 7.6, 7.7, 7.8, 7.9, 8.0, 8.1, 11.5]
f5_blue_y = [0.13, 0.17, 0.23, 0.28, 0.32, 0.35, 0.36, 0.35, 0.31, 0.25, 0.18, 0.11, 0.06, 0.03, 0.01, 0.0, 0.0]
f5_green_x = [6.65, 6.7, 6.8, 6.9, 7.0, 7.1, 7.2, 7.3, 7.4, 7.5, 7.6, 7.7, 7.8, 7.9, 8.0, 8.1, 8.5, 8.6,
              8.7, 8.8, 8.9, 9.0, 9.1, 9.2, 9.3, 9.4, 9.5, 9.6, 9.7, 9.8, 9.9, 10.0, 10.1, 10.2]
f5_green_y = [0.03, 0.04, 0.06, 0.10, 0.16, 0.25, 0.36, 0.49, 0.62, 0.74, 0.84, 0.91, 0.96, 0.98, 0.99, 1.0, 1.0, 0.99,
              0.98, 0.96, 0.93, 0.89, 0.82, 0.70, 0.57, 0.46, 0.35, 0.23, 0.14, 0.08, 0.04, 0.02, 0.01, 0.0]
f5_pink_x = [6.65, 8.5, 8.7, 8.8, 8.9, 9.0, 9.1, 9.2, 9.3, 9.4, 9.5, 9.6, 9.7, 9.8]
f5_pink_y = [0.0, 0.01, 0.03, 0.05, 0.08, 0.14, 0.22, 0.32, 0.42, 0.53, 0.63, 0.73, 0.83, 0.92]

legend_labels = ["Ion précurseur", "Perte de CO", "Perte de 2CO", "Perte de 3CO"]

# ---------------- drawing ----------------
W, H = 732, 1656
fig = plt.figure(figsize=(W / 100, H / 100), dpi=100)

STAR = Path([(0, 1), (0.2, 0.2), (1, 0), (0.2, -0.2), (0, -1), (-0.2, -0.2), (-1, 0), (-0.2, 0.2), (0, 1), (0, 1)],
            [Path.MOVETO, Path.CURVE3, Path.CURVE3, Path.CURVE3, Path.CURVE3,
             Path.CURVE3, Path.CURVE3, Path.CURVE3, Path.CURVE3, Path.CLOSEPOLY])


def fx(px):
    return px / W


def fy(py):
    return 1 - py / H


def make_panel(left, right, top, bottom, ylo, yhi, xlo, spine_top):
    ax = fig.add_axes([fx(left), fy(bottom), (right - left) / W, (bottom - top) / H])
    ax.set_xlim(xlo, 11.5)
    ax.set_ylim(ylo, yhi)
    ax.spines['top'].set_visible(False)
    ax.spines['right'].set_visible(False)
    ax.spines['left'].set_bounds(ylo, spine_top)
    for s in ('left', 'bottom'):
        ax.spines[s].set_linewidth(1.0)
    ax.xaxis.set_major_locator(MultipleLocator(0.5))
    ax.xaxis.set_minor_locator(MultipleLocator(0.1))
    ax.xaxis.set_major_formatter(FormatStrFormatter('%.1f'))
    ax.set_yticks([0.0, 0.2, 0.4, 0.6, 0.8, 1.0])
    ax.yaxis.set_major_formatter(FormatStrFormatter('%.1f'))
    ax.tick_params(axis='x', which='major', length=6.5, width=1.0, pad=4.5, labelsize=16)
    ax.tick_params(axis='x', which='minor', length=4, width=1.0)
    ax.tick_params(axis='y', which='major', length=6.5, width=1.0, pad=2.5, labelsize=16)
    return ax


def series(ax, x, y, err, color, z):
    ax.errorbar(x, y, yerr=err, xerr=0.012, fmt='none', ecolor=color, elinewidth=0.9,
                capsize=2.8, capthick=0.9, zorder=z)
    ax.plot(x, y, ls='none', marker=STAR, ms=8.5, color=color, mec=color, mew=0.3, zorder=z + 0.5)


def fit(ax, x, y, color):
    ax.plot(x, y, color=color, lw=1.0, zorder=10)


def labels(ax, xl_center, xl_top, yl_center, clip_top, name, cond, nx, nb1, nb2):
    ax.set_xlabel("Energie de photon (eV)", fontsize=16)
    ax.xaxis.set_label_coords(fx(xl_center), fy(xl_top), transform=fig.transFigure)
    ax.set_ylabel("Intensité relative de l'ion", fontsize=16, va='baseline')
    ax.yaxis.set_label_coords(fx(33.5), fy(yl_center), transform=fig.transFigure)
    lab = ax.yaxis.label
    lab.set_clip_box(TransformedBbox(Bbox.from_extents(0, 0, W / 100, (H - clip_top) / 100),
                                     fig.dpi_scale_trans))
    lab.set_clip_on(True)
    fig.text(fx(nx), fy(nb1), name, fontsize=16.5, fontweight='bold', va='baseline')
    fig.text(fx(nx), fy(nb2), cond, fontsize=16.5, fontweight='bold', va='baseline')


def legend(ax, mx, rows, colors, texts, tx):
    for i, c in enumerate(colors):
        ax.plot([fx(mx)], [fy(rows[i])], ls='none', marker=STAR, ms=12.5, color=c,
                transform=fig.transFigure, clip_on=False, zorder=20)
        if texts:
            fig.text(fx(tx), fy(rows[i]), texts[i], fontsize=15, va='center')


# Panel 1
ax1 = make_panel(93, 704.5, 38.3, 250.3, -0.03, 1.03, 6.655, 1.0)
series(ax1, x1, p1_green, p1_green_err, GREEN, 3)
series(ax1, x1, p1_blue, p1_blue_err, BLUE, 4)
series(ax1, x1, p1_red, p1_red_err, RED, 5)
fit(ax1, f1_red_x, f1_red_y, RED)
fit(ax1, f1_blue_x, f1_blue_y, BLUE)
fit(ax1, f1_green_x, f1_green_y, GREEN)
labels(ax1, 377, 301.5, 134.5, 0, "Fe1", "(RH)", 124, 64.3, 96)
legend(ax1, 120.7, [130, 155.8, 181.7], [RED, BLUE, GREEN], legend_labels[:3], 153.3)

# Panel 2
ax2 = make_panel(93.3, 704.5, 381.9, 588.1, -0.031, 1.03, 6.655, 1.0)
ax2.plot(p2_pad_x, p2_pad_y, color=PINK, lw=4, ls=(0, (0.5, 0.6)), zorder=2)
series(ax2, x2, p2_blue, p2_blue_err, BLUE, 2)
series(ax2, x2, p2_red, p2_red_err, RED, 3)
series(ax2, x2, p2_green, p2_green_err, GREEN, 4)
series(ax2, x2, p2_pink, p2_pink_err, PINK, 5)
fit(ax2, f2_red_x, f2_red_y, RED)
fit(ax2, f2_blue_x, f2_blue_y, BLUE)
fit(ax2, f2_green_x, f2_green_y, GREEN)
fit(ax2, f2_pink_x, f2_pink_y, PINK)
labels(ax2, 377, 638, 503, 0, "Fe1", "(TD)", 126.7, 406.7, 439)
legend(ax2, 118.3, [454.3, 480, 505.7, 532.7], [RED, BLUE, GREEN, PINK], None, 0)

# Panel 3
ax3 = make_panel(92.7, 704.5, 732.6, 928.9, -0.03, 1.10, 6.655, 1.10)
series(ax3, x3, p3_red, p3_red_err, RED, 3)
series(ax3, x3, p3_green, p3_green_err, GREEN, 4)
series(ax3, x3, p3_blue, p3_blue_err, BLUE, 5)
fit(ax3, f3_red_x, f3_red_y, RED)
fit(ax3, f3_blue_x, f3_blue_y, BLUE)
fit(ax3, f3_green_x, f3_green_y, GREEN)
labels(ax3, 377, 988, 863, 732, "Fe2", "(RH)", 126.7, 762.3, 795.5)
legend(ax3, 179, [820.7, 849.3, 877.7], [RED, BLUE, GREEN], None, 0)

# Panel 4
ax4 = make_panel(92.7, 704.5, 1033.4, 1242.3, -0.025, 1.03, 6.655, 1.0)
ax4.plot(p4_pad_x, p4_pad_y, color=BLUE, lw=3, ls=(0, (0.5, 1.5)), zorder=2)
ax4.plot(p4_pad_x, p4_pad_y, color=RED, lw=3, ls=(1.0, (0.5, 1.5)), zorder=2)
series(ax4, x4, p4_red, p4_err, RED, 2)
series(ax4, x4, p4_blue, p4_err, BLUE, 3)
series(ax4, x4, p4_pink, p4_err, PINK, 4)
series(ax4, x4, p4_green, p4_err, GREEN, 5)
fit(ax4, f4_blue_x, f4_blue_y, BLUE)
fit(ax4, f4_green_x, f4_green_y, GREEN)
fit(ax4, f4_pink_x, f4_pink_y, PINK)
labels(ax4, 377, 1294, 1173.5, 1046, "Fe3", "(TD)", 126, 1058.3, 1091.7)

# Panel 5
ax5 = make_panel(99, 704.3, 1375.9, 1582.7, -0.029, 1.03, 6.65, 1.0)
series(ax5, x5, p5_blue, p5_blue_err, BLUE, 2)
series(ax5, x5, p5_green, p5_green_err, GREEN, 3)
series(ax5, x5, p5_pink, p5_pink_err, PINK, 4)
series(ax5, x5, p5_red, p5_red_err, RED, 5)
fit(ax5, f5_red_x, f5_red_y, RED)
fit(ax5, f5_blue_x, f5_blue_y, BLUE)
fit(ax5, f5_green_x, f5_green_y, GREEN)
fit(ax5, f5_pink_x, f5_pink_y, PINK)
labels(ax5, 378, 1632, 1495, 0, "Fe4", "(TD)", 131.7, 1400, 1433.3)
legend(ax5, 214.3, [1443.3, 1469, 1494, 1519.3], [RED, BLUE, GREEN, PINK], legend_labels, 246.7)

fig.savefig("out.png", dpi=100, facecolor='white')
